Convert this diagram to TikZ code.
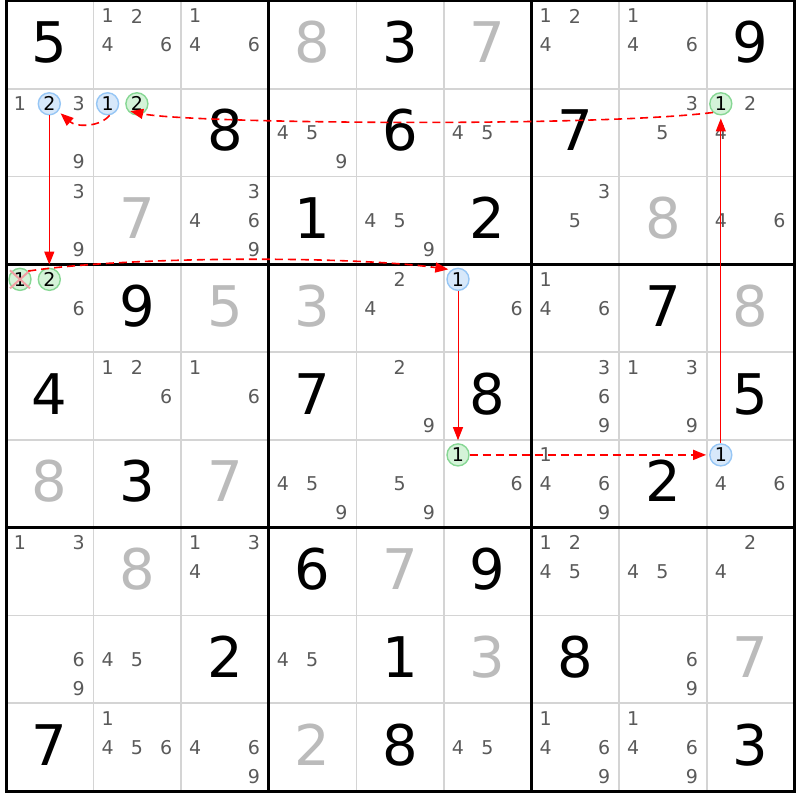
\documentclass[tikz,border=0pt]{standalone}
\usepackage{fontspec}
\setmainfont{DejaVu Sans}
\usetikzlibrary{arrows.meta}

\definecolor{candgray}{RGB}{90,90,90}
\definecolor{givengray}{RGB}{187,187,187}
\definecolor{gridgray}{RGB}{212,212,212}
\definecolor{bluefill}{RGB}{215,232,250}
\definecolor{bluering}{RGB}{150,198,245}
\definecolor{greenfill}{RGB}{212,243,216}
\definecolor{greenring}{RGB}{135,215,148}
\definecolor{crosspink}{RGB}{242,160,165}
\definecolor{linkred}{RGB}{255,0,0}

\tikzset{
  solved/.style={anchor=base,inner sep=0pt,font=\fontsize{56}{56}\selectfont,text=black},
  clue/.style={solved,text=givengray},
  cand/.style={inner sep=0pt,font=\fontsize{19}{19}\selectfont,text=candgray},
  bluemark/.style={circle,inner sep=0pt,minimum size=22pt,line width=1.4pt,draw=bluering,fill=bluefill,font=\fontsize{19}{19}\selectfont,text=black},
  greenmark/.style={bluemark,draw=greenring,fill=greenfill},
  thinline/.style={gridgray,line width=1.6pt},
  boxline/.style={black,line width=3pt},
  strong/.style={linkred,line width=1pt,-{Triangle[length=13pt,width=10pt]},shorten >=3pt},
  weak/.style={strong,line width=1.6pt,dash pattern=on 8pt off 5pt},
  crossmark/.style={crosspink,line width=2pt}
}

% row, column, digit, style
\newcommand{\Digit}[4]{\node[#4] (d#1#2) at ({6+(#2-0.5)*87.6},{1+(#1-1)*87.78+62}) {#3};}
% row, column, list of candidates
\newcommand{\Cands}[3]{\foreach \d in {#3}{\node[cand] (k#1#2\d) at ({6+(#2-1)*87.6+14+mod(\d-1,3)*29.3},{1+(#1-1)*87.78+15+int((\d-1)/3)*29}) {\d};}}
% row, column, candidate, style
\newcommand{\Mark}[4]{\node[#4] (m#1#2#3) at ({6+(#2-1)*87.6+14+mod(#3-1,3)*29.3},{1+(#1-1)*87.78+15+int((#3-1)/3)*29}) {#3};}

\begin{document}
\begin{tikzpicture}[x=1pt,y=-1pt]
\fill[white] (0,0) rectangle (800,800);
\useasboundingbox (0,0) rectangle (800,800);

% grid
\foreach \i in {1,2,4,5,7,8} {
  \draw[thinline] ({6+\i*87.6},1) -- ({6+\i*87.6},791);
  \draw[thinline] (6,{1+\i*87.78}) -- (794.4,{1+\i*87.78});
}
\foreach \i in {3,6} {
  \draw[boxline] ({6+\i*87.6},1) -- ({6+\i*87.6},791);
  \draw[boxline] (6,{1+\i*87.78}) -- (794.4,{1+\i*87.78});
}
\draw[boxline] (6,1) rectangle (794.4,791);

% big digits
\Digit{1}{1}{5}{solved} \Digit{1}{4}{8}{clue} \Digit{1}{5}{3}{solved}
\Digit{1}{6}{7}{clue} \Digit{1}{9}{9}{solved}
\Digit{2}{3}{8}{solved} \Digit{2}{5}{6}{solved} \Digit{2}{7}{7}{solved}
\Digit{3}{2}{7}{clue} \Digit{3}{4}{1}{solved} \Digit{3}{6}{2}{solved} \Digit{3}{8}{8}{clue}
\Digit{4}{2}{9}{solved} \Digit{4}{3}{5}{clue} \Digit{4}{4}{3}{clue}
\Digit{4}{8}{7}{solved} \Digit{4}{9}{8}{clue}
\Digit{5}{1}{4}{solved} \Digit{5}{4}{7}{solved} \Digit{5}{6}{8}{solved} \Digit{5}{9}{5}{solved}
\Digit{6}{1}{8}{clue} \Digit{6}{2}{3}{solved} \Digit{6}{3}{7}{clue} \Digit{6}{8}{2}{solved}
\Digit{7}{2}{8}{clue} \Digit{7}{4}{6}{solved} \Digit{7}{5}{7}{clue} \Digit{7}{6}{9}{solved}
\Digit{8}{3}{2}{solved} \Digit{8}{5}{1}{solved} \Digit{8}{6}{3}{clue}
\Digit{8}{7}{8}{solved} \Digit{8}{9}{7}{clue}
\Digit{9}{1}{7}{solved} \Digit{9}{4}{2}{clue} \Digit{9}{5}{8}{solved} \Digit{9}{9}{3}{solved}

% candidates
\Cands{1}{2}{1,2,4,6} \Cands{1}{3}{1,4,6} \Cands{1}{7}{1,2,4} \Cands{1}{8}{1,4,6}
\Cands{2}{1}{1,3,9} \Cands{2}{4}{4,5,9} \Cands{2}{6}{4,5} \Cands{2}{8}{3,5} \Cands{2}{9}{2,4}
\Cands{3}{1}{3,9} \Cands{3}{3}{3,4,6,9} \Cands{3}{5}{4,5,9} \Cands{3}{7}{3,5} \Cands{3}{9}{4,6}
\Cands{4}{1}{6} \Cands{4}{5}{2,4} \Cands{4}{6}{6} \Cands{4}{7}{1,4,6}
\Cands{5}{2}{1,2,6} \Cands{5}{3}{1,6} \Cands{5}{5}{2,9} \Cands{5}{7}{3,6,9} \Cands{5}{8}{1,3,9}
\Cands{6}{4}{4,5,9} \Cands{6}{5}{5,9} \Cands{6}{6}{6} \Cands{6}{7}{1,4,6,9} \Cands{6}{9}{4,6}
\Cands{7}{1}{1,3} \Cands{7}{3}{1,3,4} \Cands{7}{7}{1,2,4,5} \Cands{7}{8}{4,5} \Cands{7}{9}{2,4}
\Cands{8}{1}{6,9} \Cands{8}{2}{4,5} \Cands{8}{4}{4,5} \Cands{8}{8}{6,9}
\Cands{9}{2}{1,4,5,6} \Cands{9}{3}{4,6,9} \Cands{9}{6}{4,5} \Cands{9}{7}{1,4,6,9} \Cands{9}{8}{1,4,6,9}

% marked candidates
\Mark{2}{1}{2}{bluemark} \Mark{2}{2}{1}{bluemark} \Mark{2}{2}{2}{greenmark}
\Mark{2}{9}{1}{greenmark}
\Mark{4}{1}{1}{greenmark} \Mark{4}{1}{2}{greenmark} \Mark{4}{6}{1}{bluemark}
\Mark{6}{6}{1}{greenmark} \Mark{6}{9}{1}{bluemark}
\draw[crossmark] ([shift={(-10,-9)}]m411.center) -- ([shift={(10,9)}]m411.center);
\draw[crossmark] ([shift={(-10,9)}]m411.center) -- ([shift={(10,-9)}]m411.center);

% links
\draw[weak] (m291.228) .. controls +(-120,15) and +(60,13) .. (m222.215);
\draw[weak] (m221.280) .. controls +(-10,12) and +(18,16) .. (m212.320);
\draw[strong] (m212) -- (m412);
\draw[weak] (m411.45) .. controls +(100,-15) and +(-100,-14) .. (m461.125);
\draw[strong] (m461) -- (m661);
\draw[weak] (m661) -- (m691);
\draw[strong] (m691) -- (m291);
\end{tikzpicture}
\end{document}
